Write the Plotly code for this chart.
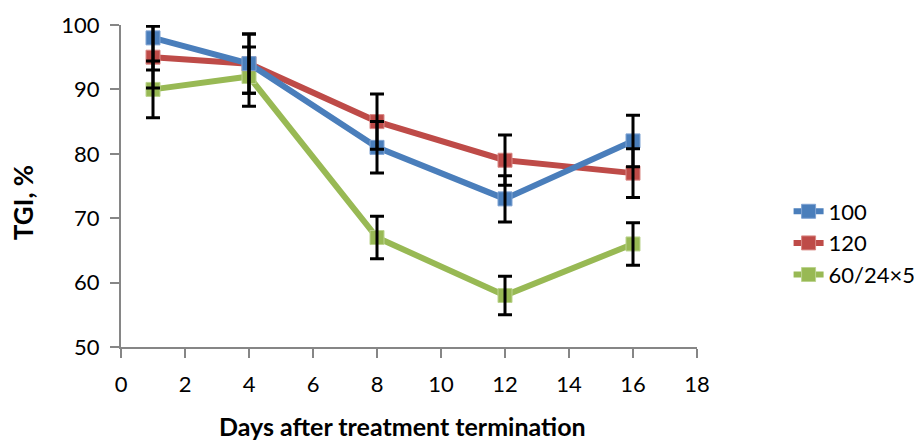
import plotly.graph_objects as go

days = [1, 4, 8, 12, 16]
series_names = ["100", "120", "60/24×5"]
tgi_100 = [98, 94, 81, 73, 82]
tgi_120 = [95, 94, 85, 79, 77]
tgi_60 = [90, 92, 67, 58, 66]
err_100 = [5.0, 4.6, 4.0, 3.6, 4.0]
err_120 = [4.8, 4.6, 4.3, 3.9, 3.8]
err_60 = [4.4, 4.6, 3.3, 3.0, 3.3]
x_ticks = list(range(0, 20, 2))
y_ticks = [50, 60, 70, 80, 90, 100]

colors = ["#4A7EBB", "#BE4B48", "#98B954"]
borders = ["#7FA3D3", "#D98986", "#BCD48F"]
values = [tgi_100, tgi_120, tgi_60]
errors = [err_100, err_120, err_60]

FONT = "Lato"
fig = go.Figure()

# draw lines (green first, blue last so blue sits on top)
for i in [2, 1, 0]:
    fig.add_trace(go.Scatter(
        x=days, y=values[i], name=series_names[i], mode="lines+markers",
        line=dict(color=colors[i], width=6),
        marker=dict(symbol="square", size=14, color=colors[i],
                    line=dict(color=borders[i], width=1)),
        legendrank=i + 1,
    ))

# error bars on top
for i in [0, 1, 2]:
    fig.add_trace(go.Scatter(
        x=days, y=values[i], mode="markers", showlegend=False,
        marker=dict(size=1, color="rgba(0,0,0,0)"),
        error_y=dict(type="data", array=errors[i], visible=True,
                     color="black", thickness=3, width=7),
        hoverinfo="skip",
    ))

axis_common = dict(
    showline=True, linecolor="#868686", linewidth=2,
    ticks="outside", tickcolor="#868686", tickwidth=2, ticklen=9,
    showgrid=False, zeroline=False,
    tickfont=dict(family=FONT, size=22, color="#000000"),
)

# page body has an 8px margin, so figure is 914x432 to fill 922x440 window
L, T, W, H = 113, 17, 914, 432
PW, PH = 576, 322
fig.update_layout(
    width=W, height=H,
    margin=dict(l=L, r=W - L - PW, t=T, b=H - T - PH, autoexpand=False),
    paper_bgcolor="white", plot_bgcolor="white",
    xaxis=dict(range=[0, 18], tickvals=x_ticks, ticklabelstandoff=8, **axis_common),
    yaxis=dict(range=[50, 100], tickvals=y_ticks, ticklabelstandoff=6, **axis_common),
    legend=dict(x=1.159, xanchor="left", y=0.323, yanchor="middle",
                font=dict(family=FONT, size=22, color="#000000"),
                itemwidth=30, tracegroupgap=0, bgcolor="rgba(0,0,0,0)"),
    showlegend=True,
    annotations=[
        dict(text="<b>Days after treatment termination</b>", xref="paper", yref="paper",
             x=0.488, y=-0.246, xanchor="center", yanchor="middle",
             showarrow=False, font=dict(family=FONT, size=25, color="#000000")),
        dict(text="<b>TGI, %</b>", xref="paper", yref="paper",
             x=-0.170, y=0.447, xanchor="center", yanchor="middle",
             textangle=-90, showarrow=False,
             font=dict(family=FONT, size=26, color="#000000")),
    ],
)

fig.write_html("out.html")
